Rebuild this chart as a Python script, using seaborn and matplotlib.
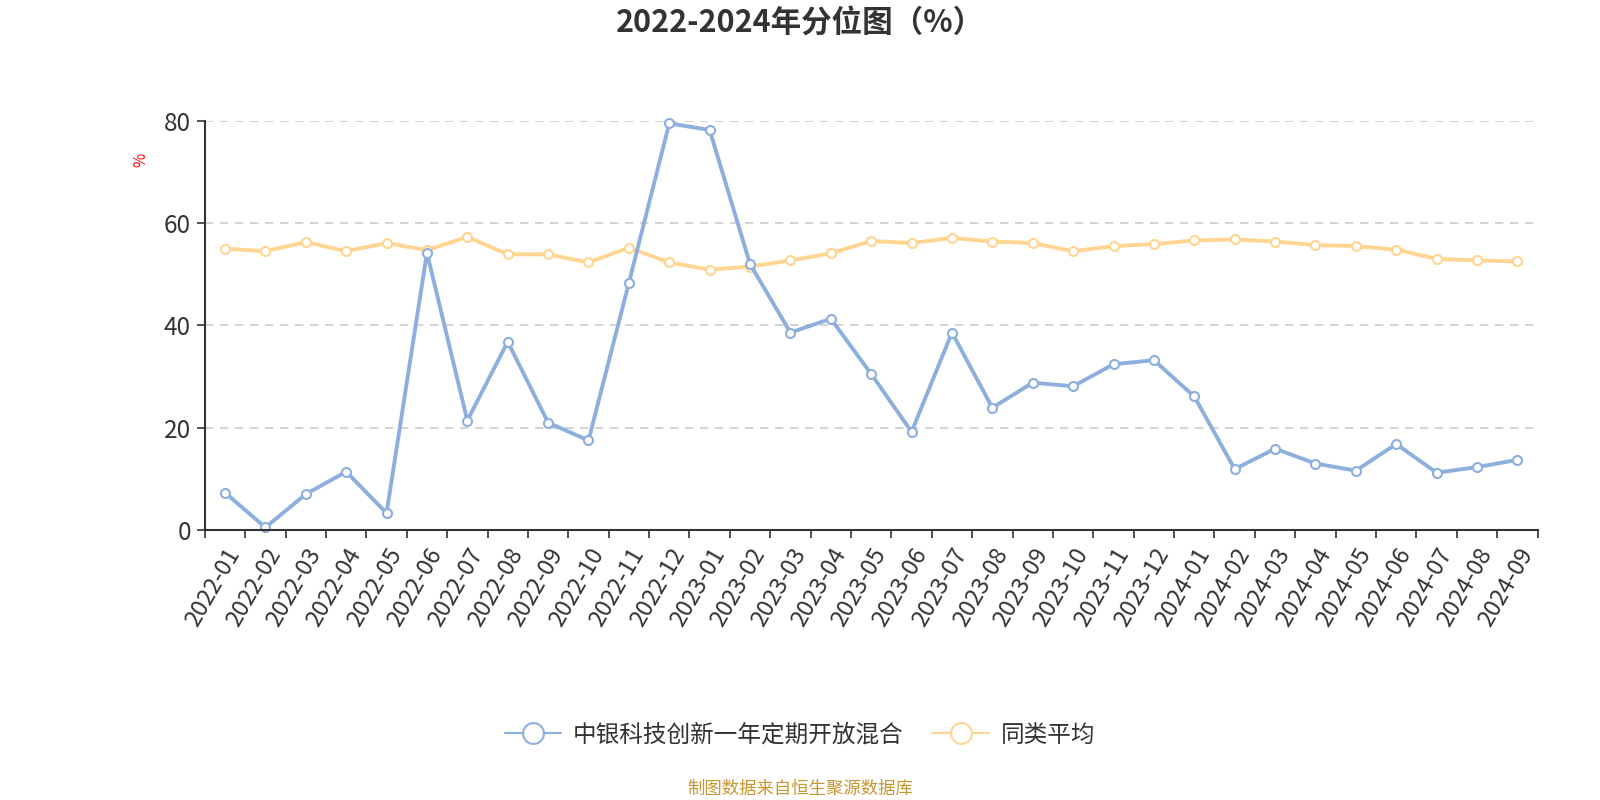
import pandas as pd
import matplotlib.pyplot as plt
import seaborn as sns
from matplotlib.lines import Line2D

# Data
months = ["2022-01", "2022-02", "2022-03", "2022-04", "2022-05", "2022-06", "2022-07",
          "2022-08", "2022-09", "2022-10", "2022-11", "2022-12", "2023-01", "2023-02",
          "2023-03", "2023-04", "2023-05", "2023-06", "2023-07", "2023-08", "2023-09",
          "2023-10", "2023-11", "2023-12", "2024-01", "2024-02", "2024-03", "2024-04",
          "2024-05", "2024-06", "2024-07", "2024-08", "2024-09"]
fund = [7.3, 0.5, 7.0, 11.4, 3.3, 54.2, 21.4, 36.8, 21.0, 17.5, 48.3, 79.5, 78.2, 52.0,
        38.6, 41.3, 30.5, 19.2, 38.6, 23.9, 28.8, 28.1, 32.4, 33.2, 26.1, 11.9, 15.9,
        13.0, 11.6, 16.8, 11.2, 12.3, 13.7]
peer_avg = [55.0, 54.5, 56.3, 54.5, 56.1, 54.7, 57.3, 53.9, 53.9, 52.3, 55.2, 52.3, 50.9,
            51.5, 52.7, 54.1, 56.5, 56.1, 57.1, 56.4, 56.1, 54.5, 55.5, 55.9, 56.6, 56.8,
            56.4, 55.7, 55.5, 54.8, 53.0, 52.7, 52.5]
fund_name = "中银科技创新一年定期开放混合"
peer_name = "同类平均"

sns.set_theme(style="white")
plt.rcParams['font.family'] = ['Noto Sans CJK SC', 'DejaVu Sans']

df = pd.DataFrame({"idx": range(len(months)), fund_name: fund, peer_name: peer_avg})

blue = "#8DAFDD"
orange = "#FFD591"

fig = plt.figure(figsize=(16, 8), dpi=100)
ax = fig.add_axes([0.128, 0.3375, 0.833, 0.5115])

for name, col in [(peer_name, orange), (fund_name, blue)]:
    sns.lineplot(data=df, x="idx", y=name, ax=ax, color=col, linewidth=2.8,
                 marker="o", markersize=6.5, markerfacecolor="white",
                 markeredgecolor=col, markeredgewidth=1.5, clip_on=False)

ax.set_xlim(-0.5, len(months) - 0.5)
ax.set_ylim(0, 80)
ax.set_yticks([0, 20, 40, 60, 80])
ax.yaxis.grid(True, linestyle=(0, (5, 4)), color="#cccccc", linewidth=1.2)
ax.set_axisbelow(True)
ax.tick_params(axis="y", labelsize=17.5, labelcolor="#333333", length=6, width=1.2,
               color="#333333", left=True, pad=4)

ax.set_xticks(range(len(months)))
ax.set_xticklabels(months, rotation=60, ha="right", rotation_mode="anchor")
ax.set_xticks([i - 0.5 for i in range(len(months) + 1)], minor=True)
ax.tick_params(axis="x", which="major", length=0, labelsize=17, labelcolor="#333333", pad=10)
ax.tick_params(axis="x", which="minor", length=6, width=1.2, color="#333333", bottom=True)

for s in ["top", "right"]:
    ax.spines[s].set_visible(False)
for s in ["left", "bottom"]:
    ax.spines[s].set_color("#333333")
    ax.spines[s].set_linewidth(1.5)

ax.set_xlabel("")
ax.set_ylabel("")
fig.text(0.088, 0.8, "%", color="red", fontsize=11, rotation=90, ha="center", va="center")

fig.suptitle("2022-2024年分位图（%）", fontsize=22, fontweight="bold", color="#333333",
             y=0.972, va="center")

handles = [Line2D([0], [0], color=blue, linewidth=1.5, marker="o", markersize=15,
                  markerfacecolor="white", markeredgecolor=blue, markeredgewidth=1.5),
           Line2D([0], [0], color=orange, linewidth=1.5, marker="o", markersize=15,
                  markerfacecolor="white", markeredgecolor=orange, markeredgewidth=1.5)]
leg = fig.legend(handles, [fund_name, peer_name], loc="center", bbox_to_anchor=(0.5, 0.081),
                 ncol=2, frameon=False, fontsize=17, handlelength=2.4, columnspacing=1.2,
                 handletextpad=0.5)
for t in leg.get_texts():
    t.set_color("#333333")

fig.text(0.5, 0.014, "制图数据来自恒生聚源数据库", color="#C8962E", fontsize=12.5,
         ha="center", va="center")

fig.savefig("out.png", dpi=100)
